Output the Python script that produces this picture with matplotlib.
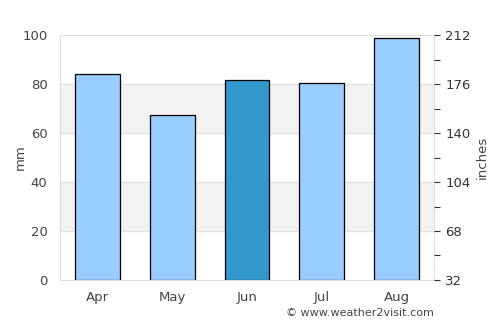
import matplotlib
matplotlib.use('Agg')
import matplotlib.pyplot as plt

months = ['Apr', 'May', 'Jun', 'Jul', 'Aug']
rain_mm = [84.1, 67.3, 81.6, 80.4, 98.8]
bar_colors = ['#99ccff', '#99ccff', '#3399cc', '#99ccff', '#99ccff']
left_ticks = [0, 20, 40, 60, 80, 100]
right_ticks = [32, 68, 104, 140, 176, 212]
right_minor = [50, 86, 122, 158, 194]

text_color = '#444444'

fig = plt.figure(figsize=(5, 3.25), dpi=100)
ax = fig.add_axes([0.12, 0.1385, 0.748, 0.7535])

# alternating shaded bands
for lo in [20, 60]:
    ax.axhspan(lo, lo + 20, color='#f2f2f2', zorder=0)
for y in [20, 40, 60, 80]:
    ax.axhline(y, color='#e0e0e0', lw=0.8, zorder=0.5)

ax.bar(range(len(months)), rain_mm, width=0.6, color=bar_colors,
       edgecolor='black', linewidth=0.9, zorder=2)

ax.set_xlim(-0.5, 4.5)
ax.set_ylim(0, 100)
ax.set_xticks(range(len(months)))
ax.set_xticklabels(months)
ax.set_yticks(left_ticks)
ax.tick_params(axis='both', length=0, colors=text_color, labelsize=9.5, pad=8)
ax.tick_params(axis='y', pad=9)
ax.set_ylabel('mm', color=text_color, fontsize=9.5)
ax.yaxis.set_label_coords(-0.09, 0.5)
for s in ax.spines.values():
    s.set_color('#dddddd')
    s.set_linewidth(0.8)

ax2 = ax.twinx()
ax2.set_ylim(32, 212)
ax2.set_yticks(right_ticks)
ax2.set_yticks(right_minor, minor=True)
ax2.tick_params(axis='y', which='major', length=4, width=0.8, color='#333333',
                labelsize=9.5, pad=4)
ax2.tick_params(axis='y', which='minor', length=4, width=0.8, color='#333333')
for lab in ax2.get_yticklabels():
    lab.set_color('#333333')
ax2.set_ylabel('inches', color=text_color, fontsize=9.5, labelpad=4)
for s in ax2.spines.values():
    s.set_visible(False)

fig.text(0.868, 0.02, '\u00a9 www.weather2visit.com', ha='right', va='bottom',
         color=text_color, fontsize=8)

fig.savefig('out.png', dpi=100)
